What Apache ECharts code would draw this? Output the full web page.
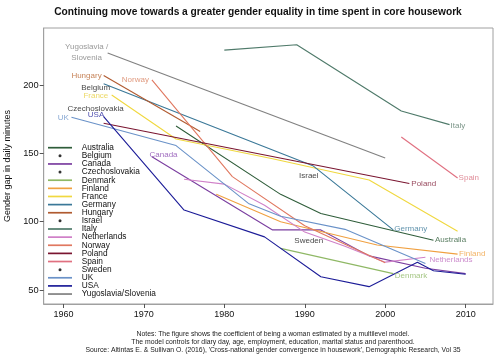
<!DOCTYPE html>
<html><head><meta charset="utf-8">
<script src="https://cdn.jsdelivr.net/npm/echarts@6/dist/echarts.min.js"></script>
<style>html,body{margin:0;padding:0;background:#fff}#c{width:500px;height:356px}</style>
</head><body><div id="c"></div>
<script>
// ---- data ----
const countries = ['Australia','Belgium','Canada','Czechoslovakia','Denmark','Finland','France','Germany','Hungary','Israel','Italy','Netherlands','Norway','Poland','Spain','Sweden','UK','USA','Yugoslavia/Slovenia'];
const australiaYears = [1974, 1987, 1992, 2006];
const australiaGap   = [170, 120, 106, 86.5];
const belgiumYears = [1964];
const belgiumGap   = [198.3];
const canadaYears = [1971, 1986, 1992, 1998, 2005, 2010];
const canadaGap   = [147.5, 94, 94, 75, 66, 62];
const czechYears = [1964];
const czechGap   = [182.9];
const denmarkYears = [1987, 2001];
const denmarkGap   = [80.5, 62];
const finlandYears = [1979, 1987, 1999, 2009];
const finlandGap   = [120, 100, 83, 76.3];
const franceYears = [1966, 1974, 1986, 1998, 2009];
const franceGap   = [192.7, 160.5, 146, 130.5, 93];
const germanyYears = [1965, 1991, 2001];
const germanyGap   = [201, 141, 94];
const hungaryYears = [1965, 1977];
const hungaryGap   = [207, 166];
const israelYears = [1990.5];
const israelGap   = [133.6];
const italyYears = [1980, 1989, 2002, 2008];
const italyGap   = [225.5, 229.5, 181, 171];
const netherlandsYears = [1975, 1980, 1985, 1990, 1995, 2000, 2005];
const netherlandsGap   = [131, 127.5, 112, 92.4, 82, 70.4, 74];
const norwayYears = [1971, 1981, 1990, 2000];
const norwayGap   = [203.7, 133, 97, 70];
const polandYears = [1965, 2003];
const polandGap   = [172, 128];
const spainYears = [2002, 2009];
const spainGap   = [162, 132];
const swedenYears = [1990.5];
const swedenGap   = [86];
const ukYears = [1961, 1974, 1983, 1987, 1995, 2005];
const ukGap   = [176.4, 155.7, 113.4, 104, 94.4, 69.5];
const usaYears = [1965, 1975, 1985, 1992, 1998, 2004, 2006, 2010];
const usaGap   = [176.8, 108.5, 88.9, 59.7, 52.5, 70.4, 64.1, 61.6];
const yugoYears = [1965.5, 2000];
const yugoGap   = [223.4, 146.6];
const xTicks = [1960, 1970, 1980, 1990, 2000, 2010];
const yTicks = [50, 100, 150, 200];

const titleText = 'Continuing move towards a greater gender equality in time spent in core housework';
const yTitle = 'Gender gap in daily minutes';
const notes = ['Notes: The figure shows the coefficient of being a woman estimated by a multilevel model.',
  'The model controls for diary day, age, employment, education, marital status and parenthood.',
  "Source: Altintas E. & Sullivan O. (2016), 'Cross-national gender convergence in housework', Demographic Research, Vol 35"];

// ---- styling ----
const zip = (xs, ys) => xs.map((x, i) => [x, ys[i]]);
const seriesDefs = [
  {name:'Australia', xs:australiaYears, ys:australiaGap, color:'#2f5d3a'},
  {name:'Belgium', xs:belgiumYears, ys:belgiumGap, dot:true},
  {name:'Canada', xs:canadaYears, ys:canadaGap, color:'#7b3fa0'},
  {name:'Czechoslovakia', xs:czechYears, ys:czechGap, dot:true},
  {name:'Denmark', xs:denmarkYears, ys:denmarkGap, color:'#8fb865'},
  {name:'Finland', xs:finlandYears, ys:finlandGap, color:'#f0a040'},
  {name:'France', xs:franceYears, ys:franceGap, color:'#f0d840'},
  {name:'Germany', xs:germanyYears, ys:germanyGap, color:'#3a7898'},
  {name:'Hungary', xs:hungaryYears, ys:hungaryGap, color:'#b05a30'},
  {name:'Israel', xs:israelYears, ys:israelGap, dot:true},
  {name:'Italy', xs:italyYears, ys:italyGap, color:'#4f7a6a'},
  {name:'Netherlands', xs:netherlandsYears, ys:netherlandsGap, color:'#d080c8'},
  {name:'Norway', xs:norwayYears, ys:norwayGap, color:'#e07860'},
  {name:'Poland', xs:polandYears, ys:polandGap, color:'#7a1530'},
  {name:'Spain', xs:spainYears, ys:spainGap, color:'#e07080'},
  {name:'Sweden', xs:swedenYears, ys:swedenGap, dot:true},
  {name:'UK', xs:ukYears, ys:ukGap, color:'#6a92c8'},
  {name:'USA', xs:usaYears, ys:usaGap, color:'#1c1c98'},
  {name:'Yugoslavia/Slovenia', xs:yugoYears, ys:yugoGap, color:'#808080'}
];
// end/start labels: which series, which end, text, colour, offset, alignment
const labelDefs = [
  {s:'Yugoslavia/Slovenia', end:0, text:'Yugoslavia /\nSlovenia', color:'#808080', off:[-21,-1], align:'center'},
  {s:'Hungary', end:0, text:'Hungary', color:'#b8642e', off:[-2,0.5], align:'right'},
  {s:'Norway', end:0, text:'Norway', color:'#d8805e', off:[-3,-0.5], align:'right'},
  {s:'France', end:0, text:'France', color:'#e8d040', off:[-3.4,1], align:'right'},
  {s:'UK', end:0, text:'UK', color:'#6a92c8', off:[-2.7,0.3], align:'right'},
  {s:'USA', end:0, text:'USA', color:'#1c1c98', off:[0.6,-2], align:'right'},
  {s:'Canada', end:0, text:'Canada', color:'#8a4ab0', off:[-2.4,-2.4], align:'left'},
  {s:'Italy', end:1, text:'Italy', color:'#5a7a6a', off:[1,1.5], align:'left'},
  {s:'Spain', end:1, text:'Spain', color:'#d87080', off:[1,0], align:'left'},
  {s:'Poland', end:1, text:'Poland', color:'#7a1530', off:[2,0], align:'left'},
  {s:'Germany', end:1, text:'Germany', color:'#3a7898', off:[1,-1.5], align:'left'},
  {s:'Australia', end:1, text:'Australia', color:'#2f5d3a', off:[1.5,0], align:'left'},
  {s:'Finland', end:1, text:'Finland', color:'#f0a040', off:[1.5,0], align:'left'},
  {s:'Netherlands', end:1, text:'Netherlands', color:'#c070c0', off:[4,2.5], align:'left'},
  {s:'Denmark', end:1, text:'Denmark', color:'#8fb865', off:[1.5,2], align:'left'}
];

const FONT = 'Liberation Sans, Arial, Helvetica, sans-serif';
const dotIcon = 'path://M0,0M24,8M10.5,4a1.5,1.5 0 1,0 3,0a1.5,1.5 0 1,0 -3,0Z';
const lineIcon = 'path://M0,0L24,0L24,1.7L0,1.7Z';

const series = seriesDefs.map(d => d.dot ? {
  name:d.name, type:'scatter', data:zip(d.xs, d.ys), symbolSize:0,
  itemStyle:{color:'#000'},
  label:{show:true, position:'inside', formatter:'{a}', color:'#111', fontSize:8, fontFamily:FONT},
  z:5
} : {
  name:d.name, type:'line', data:zip(d.xs, d.ys), symbol:'none', showSymbol:false,
  lineStyle:{color:d.color, width:1.1}, itemStyle:{color:d.color}, z:3
});

const byName = {};
seriesDefs.forEach(d => byName[d.name] = d);
series.push({
  name:'labels', type:'scatter', symbolSize:0, z:6, silent:true,
  data: labelDefs.map(l => {
    const d = byName[l.s];
    const i = l.end === 0 ? 0 : d.xs.length - 1;
    return {value:[d.xs[i], d.ys[i]], label:{show:true, formatter:l.text, color:l.color,
      position:l.off, align:l.align, verticalAlign:'middle', fontSize:8, lineHeight:11, fontFamily:FONT}};
  })
});

const chart = echarts.init(document.getElementById('c'), null, {renderer:'canvas'});
chart.setOption({
  animation:false,
  backgroundColor:'#fff',
  title:[
    {text:titleText, left:253, top:2, textAlign:'center',
     textStyle:{fontSize:10.2, fontWeight:'bold', color:'#111', fontFamily:FONT}},
    {text:notes.join('\n'), left:268, top:325, textAlign:'center',
     textStyle:{fontSize:6.85, fontWeight:'normal', color:'#222', lineHeight:8, fontFamily:FONT}}
  ],
  grid:{left:43.7, top:28, right:7, bottom:52, show:true, borderColor:'#a0a0a0', borderWidth:1,
    backgroundColor:'#fff', containLabel:false, outerBoundsMode:'none'},
  legend:{
    orient:'vertical', left:48, top:143.7, padding:0, itemWidth:24, itemHeight:8, itemGap:0.13,
    textStyle:{fontSize:8.3, lineHeight:8, color:'#111', fontFamily:FONT, padding:[0,0,0,4.7]},
    data: seriesDefs.map(d => ({name:d.name, icon: d.dot ? dotIcon : lineIcon}))
  },
  xAxis:{type:'value', min:1957.55, max:2013.4,
    axisLine:{show:true, lineStyle:{color:'#a0a0a0'}},
    axisTick:{show:true, length:4, lineStyle:{color:'#555'}, customValues:xTicks},
    axisLabel:{color:'#111', fontSize:9, fontFamily:FONT, margin:6, customValues:xTicks, formatter:v=>String(v)},
    splitLine:{show:false}},
  yAxis:{type:'value', min:39.8, max:241.7,
    name:yTitle, nameLocation:'middle', nameRotate:90, nameGap:31,
    nameTextStyle:{fontSize:9, color:'#111', fontFamily:FONT},
    axisLine:{show:true, lineStyle:{color:'#a0a0a0'}},
    axisTick:{show:true, length:4, lineStyle:{color:'#555'}, customValues:yTicks},
    axisLabel:{color:'#111', fontSize:9.3, fontFamily:FONT, margin:5, customValues:yTicks},
    splitLine:{show:false}},
  series:series
});
</script></body></html>
